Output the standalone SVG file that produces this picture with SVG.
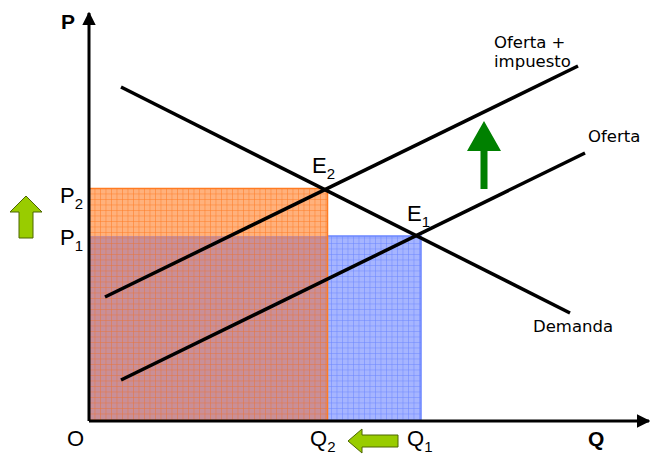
<svg xmlns="http://www.w3.org/2000/svg" width="650" height="455" viewBox="0 0 650 455">
<defs>
<style>
.ax{stroke:#000;stroke-width:3;fill:none}
.ln{stroke:#000;stroke-width:3.5;fill:none;stroke-linecap:butt}
.t{font-family:"Liberation Sans",Arial,sans-serif;fill:#000}
.lbl{font-size:22px}
.sm{font-family:"DejaVu Sans","Liberation Sans",sans-serif;font-size:16.5px}
.sub{font-size:15px}
.b{font-weight:bold;font-size:21px}
</style>
<pattern id="pO" width="5.5" height="5.5" patternUnits="userSpaceOnUse" x="89" y="188">
<rect width="5.5" height="5.5" fill="#ffb17c"/>
<path d="M0 0H5.5M0 0V5.5" stroke="#ff7b22" stroke-width="1"/>
</pattern>
<pattern id="pM" width="5.5" height="5.5" patternUnits="userSpaceOnUse" x="89" y="188">
<rect width="5.5" height="5.5" fill="#c98f98"/>
<path d="M0 0H5.5M0 0V5.5" stroke="#ea7438" stroke-width="1"/>
</pattern>
<pattern id="pB" width="5.5" height="5.5" patternUnits="userSpaceOnUse" x="89" y="188">
<rect width="5.5" height="5.5" fill="#a6b5ff"/>
<path d="M0 0H5.5M0 0V5.5" stroke="#6a85ff" stroke-width="1"/>
</pattern>
<marker id="ah" viewBox="0 0 10 10" refX="9" refY="5" markerWidth="4.5" markerHeight="4.5" orient="auto" markerUnits="strokeWidth">
<path d="M0 0L10 5L0 10z" fill="#000"/>
</marker>
</defs>
<rect width="650" height="455" fill="#fff"/>
<g id="areas">
<rect x="327" y="236" width="94" height="185" fill="url(#pB)" stroke="#6a85ff" stroke-width="1.5"/>
<rect x="89" y="188" width="238" height="48" fill="url(#pO)"/>
<rect x="89" y="236" width="238" height="185" fill="url(#pM)"/>
<path d="M89 188.5H327.5V421" stroke="#ff7b22" stroke-width="1.5" fill="none"/>
</g>
<g id="axes">
<line class="ax" x1="89" y1="421" x2="89" y2="13" marker-end="url(#ah)"/>
<line class="ax" x1="89" y1="421" x2="649" y2="421" marker-end="url(#ah)"/>
</g>
<g id="connectors">
<line id="demanda-line" class="ln" x1="121" y1="87" x2="570" y2="313"/>
<line id="oferta-line" class="ln" x1="121" y1="380" x2="585" y2="153"/>
<line id="oferta-imp-line" class="ln" x1="105" y1="297" x2="578" y2="66"/>
</g>
<g id="arrows">
<path id="green-up" d="M484 121L501 151H487.5V189H480.5V151H467Z" fill="#008000"/>
<path id="left-up" d="M26 196L42 212H33V238H19V212H10Z" fill="#99cc00" stroke="#4d6600" stroke-width="1"/>
<path id="q-left" d="M348 441L362 429V435H398V447H362V453Z" fill="#99cc00" stroke="#4d6600" stroke-width="1"/>
</g>
<g id="labels">
<text class="t b" x="61" y="29">P</text>
<text class="t lbl" x="67" y="446">O</text>
<text class="t b" x="588" y="446">Q</text>
<text class="t lbl" x="60" y="203">P<tspan class="sub" dy="6">2</tspan></text>
<text class="t lbl" x="60" y="245">P<tspan class="sub" dy="6">1</tspan></text>
<text class="t lbl" x="310" y="446">Q<tspan class="sub" dy="6">2</tspan></text>
<text class="t lbl" x="407" y="446">Q<tspan class="sub" dy="6">1</tspan></text>
<text class="t lbl" x="312" y="173">E<tspan class="sub" dy="6">2</tspan></text>
<text class="t lbl" x="407" y="221">E<tspan class="sub" dy="6">1</tspan></text>
<text class="t sm" x="494" y="48">Oferta +</text>
<text class="t sm" x="494" y="67">impuesto</text>
<text class="t sm" x="588" y="142">Oferta</text>
<text class="t sm" x="533" y="332">Demanda</text>
</g>
</svg>
